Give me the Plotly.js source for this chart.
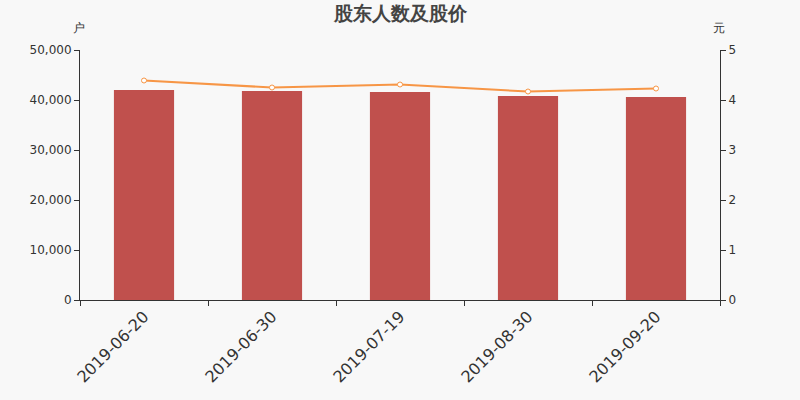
<!DOCTYPE html>
<html>
<head>
<meta charset="utf-8">
<script src="https://cdn.plot.ly/plotly-3.0.1.min.js"></script>
<style>
  html, body { margin: 0; padding: 0; background: #f8f8f8; }
  #chart { width: 800px; height: 400px; }
</style>
</head>
<body>
<div id="chart"></div>
<script>
// 报告期
const dates = ['2019-06-20', '2019-06-30', '2019-07-19', '2019-08-30', '2019-09-20'];
// 股东户数
const holders = [42000, 41800, 41600, 40800, 40600];
// 股价（元）
const prices = [4.39, 4.25, 4.31, 4.17, 4.23];

const font = "'DejaVu Sans', sans-serif";

var bars = {
  x: dates,
  y: holders,
  type: 'bar',
  name: '股东户数',
  width: 0.47,
  marker: { color: '#c0504d' },
  hoverinfo: 'x+y'
};

var line = {
  x: dates,
  y: prices,
  type: 'scatter',
  mode: 'lines+markers',
  name: '股价',
  yaxis: 'y2',
  line: { color: '#f79646', width: 2 },
  marker: { color: '#ffffff', size: 5, line: { color: '#f79646', width: 1 } }
};

var layout = {
  width: 800,
  height: 400,
  paper_bgcolor: '#f8f8f8',
  plot_bgcolor: '#f8f8f8',
  showlegend: false,
  margin: { l: 80, r: 80, t: 50, b: 100 },
  font: { family: font, color: '#333333', size: 12 },
  title: {
    text: '股东人数及股价',
    font: { family: font, size: 19, color: '#444444', weight: 'bold' },
    x: 0.5, xanchor: 'center', y: 0.984, yanchor: 'top'
  },
  xaxis: {
    type: 'category',
    tickangle: -45,
    tickson: 'boundaries',
    ticks: 'outside',
    ticklen: 5,
    tickcolor: '#333333',
    tickfont: { size: 16, color: '#333333' },
    showline: true,
    linecolor: '#333333',
    linewidth: 1,
    showgrid: false,
    zeroline: false,
    fixedrange: true
  },
  yaxis: {
    range: [0, 50000],
    dtick: 10000,
    tickformat: ',d',
    ticks: 'outside',
    ticklen: 5,
    tickcolor: '#333333',
    tickfont: { size: 12, color: '#333333' },
    showline: true,
    linecolor: '#333333',
    showgrid: false,
    zeroline: false,
    fixedrange: true
  },
  yaxis2: {
    overlaying: 'y',
    side: 'right',
    range: [0, 5],
    dtick: 1,
    ticks: 'outside',
    ticklen: 5,
    tickcolor: '#333333',
    tickfont: { size: 12, color: '#333333' },
    showline: true,
    linecolor: '#333333',
    showgrid: false,
    zeroline: false,
    fixedrange: true
  },
  annotations: [
    { text: '户', xref: 'paper', yref: 'paper', x: -0.0016, y: 1.088, xanchor: 'center', yanchor: 'middle',
      showarrow: false, font: { size: 12, color: '#333333' } },
    { text: '元', xref: 'paper', yref: 'paper', x: 0.998, y: 1.088, xanchor: 'center', yanchor: 'middle',
      showarrow: false, font: { size: 12, color: '#333333' } }
  ]
};

Plotly.newPlot('chart', [bars, line], layout, { displayModeBar: false, responsive: false });
</script>
</body>
</html>
